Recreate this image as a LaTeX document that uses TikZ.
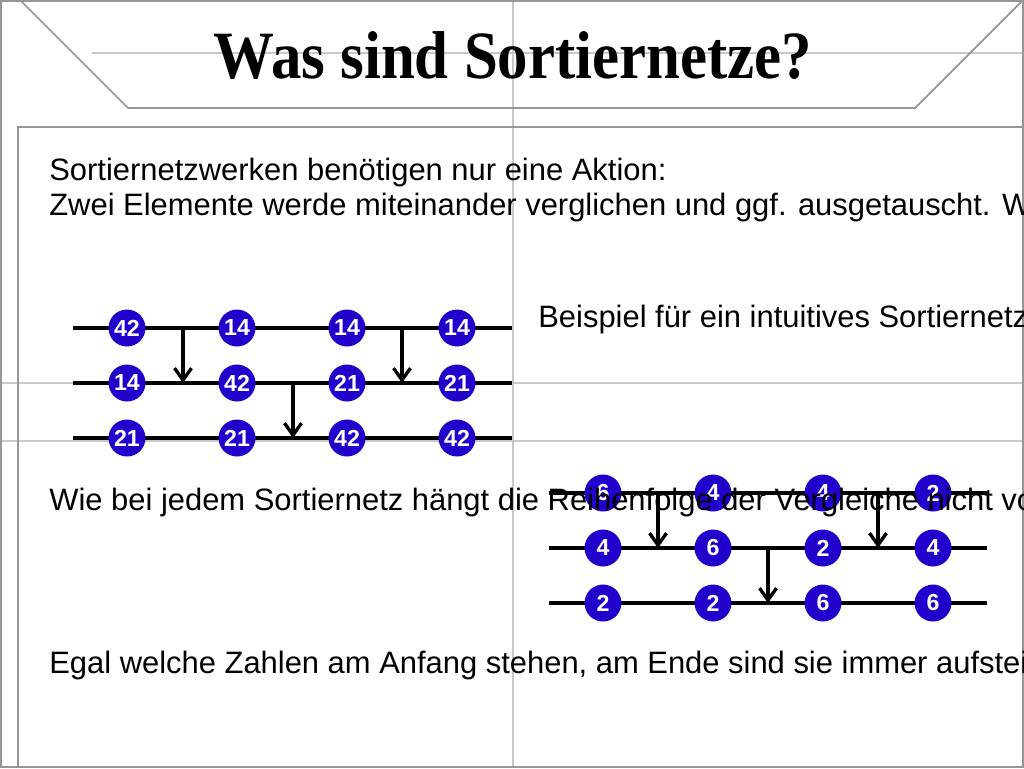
\documentclass[tikz,border=0pt]{standalone}
\usepackage{graphicx}
\usepackage{fontspec}
\setmainfont{Liberation Sans}
\newfontfamily\titlefont{Liberation Serif}
\usetikzlibrary{arrows.meta}
\definecolor{netblue}{RGB}{34,0,204}
\definecolor{framegray}{RGB}{150,150,150}
\definecolor{gridgray}{RGB}{200,200,200}
\tikzset{
  val/.style={circle,fill=netblue,text=white,minimum size=0.74cm,inner sep=0pt,
    font=\bfseries\fontsize{13.2}{14}\selectfont},
  wire/.style={line width=2.2pt},
  cmp/.style={line width=1.9pt,-{Straight Barb[length=2.4mm,width=3.4mm]}},
  txt/.style={anchor=base west,inner sep=0pt,font=\fontsize{17.6}{20}\selectfont}
}

\begin{document}
\begin{tikzpicture}[x=0.02cm,y=-0.02cm]
  \useasboundingbox (0,0) rectangle (1024,768);
  \clip (0,0) rectangle (1024,768);
  % helper lines of the slide
  \begin{scope}[gridgray,line width=1.4pt]
    \draw (513,0) -- (513,768);
    \draw (92,53) -- (1024,53);
    \draw (0,383) -- (1024,383);
    \draw (0,441) -- (1024,441);
  \end{scope}
  \begin{scope}[framegray,line width=1pt]
    \draw (1,1) rectangle (1023,767);
    \draw (20,0) -- (128,108) -- (915,108) -- (1023,0);
    \draw (1024,127) -- (18,127) -- (18,768);
  \end{scope}
  \node[anchor=base,inner sep=0pt,font=\titlefont\bfseries\fontsize{38.5}{40}\selectfont]
    (title) at (513,78) {\scalebox{0.9}[1]{Was sind Sortiernetze?}};
  % first network
  \path
    (73,328) coordinate (a1s) (512,328) coordinate (a1e)
    (73,383) coordinate (a2s) (512,383) coordinate (a2e)
    (73,438) coordinate (a3s) (512,438) coordinate (a3e)
    (183,328) coordinate (ac1) (293,383) coordinate (ac2) (402,328) coordinate (ac3);
  \draw[wire] (a1s) -- (a1e);
  \draw[wire] (a2s) -- (a2e);
  \draw[wire] (a3s) -- (a3e);
  \draw[cmp] (ac1) -- (ac1 |- a2s);
  \draw[cmp] (ac2) -- (ac2 |- a3s);
  \draw[cmp] (ac3) -- (ac3 |- a2s);
  \path
    (127,328) node[val] (a11) {42}
    (237,328) node[val] (a12) {14}
    (347,328) node[val] (a13) {14}
    (457,328) node[val] (a14) {14}
    (127,383) node[val] (a21) {14}
    (237,383) node[val] (a22) {42}
    (347,383) node[val] (a23) {21}
    (457,383) node[val] (a24) {21}
    (127,438) node[val] (a31) {21}
    (237,438) node[val] (a32) {21}
    (347,438) node[val] (a33) {42}
    (457,438) node[val] (a34) {42};
  % second network
  \path
    (549,493) coordinate (b1s) (987,493) coordinate (b1e)
    (549,548) coordinate (b2s) (987,548) coordinate (b2e)
    (549,603) coordinate (b3s) (987,603) coordinate (b3e)
    (658,493) coordinate (bc1) (768,548) coordinate (bc2) (878,493) coordinate (bc3);
  \draw[wire] (b1s) -- (b1e);
  \draw[wire] (b2s) -- (b2e);
  \draw[wire] (b3s) -- (b3e);
  \draw[cmp] (bc1) -- (bc1 |- b2s);
  \draw[cmp] (bc2) -- (bc2 |- b3s);
  \draw[cmp] (bc3) -- (bc3 |- b2s);
  \path
    (603,493) node[val] (b11) {6}
    (713,493) node[val] (b12) {4}
    (823,493) node[val] (b13) {4}
    (933,493) node[val] (b14) {2}
    (603,548) node[val] (b21) {4}
    (713,548) node[val] (b22) {6}
    (823,548) node[val] (b23) {2}
    (933,548) node[val] (b24) {4}
    (603,603) node[val] (b31) {2}
    (713,603) node[val] (b32) {2}
    (823,603) node[val] (b33) {6}
    (933,603) node[val] (b34) {6};
  % texts
  \node[txt] (t1) at (49,180) {Sortiernetzwerken benötigen nur eine Aktion:};
  \node[txt] (t2) at (49,215) {Zwei Elemente werde miteinander verglichen und ggf. ausgetauscht. W};
  \node[txt] (t3) at (538,327) {Beispiel für ein intuitives Sortiernetz};
  \node[txt] (t4) at (49,510) {Wie bei jedem Sortiernetz hängt die Reihenfolge der Vergleiche nicht vo};
  \node[txt] (t5) at (49,673) {Egal welche Zahlen am Anfang stehen, am Ende sind sie immer aufstei};
\end{tikzpicture}
\end{document}
